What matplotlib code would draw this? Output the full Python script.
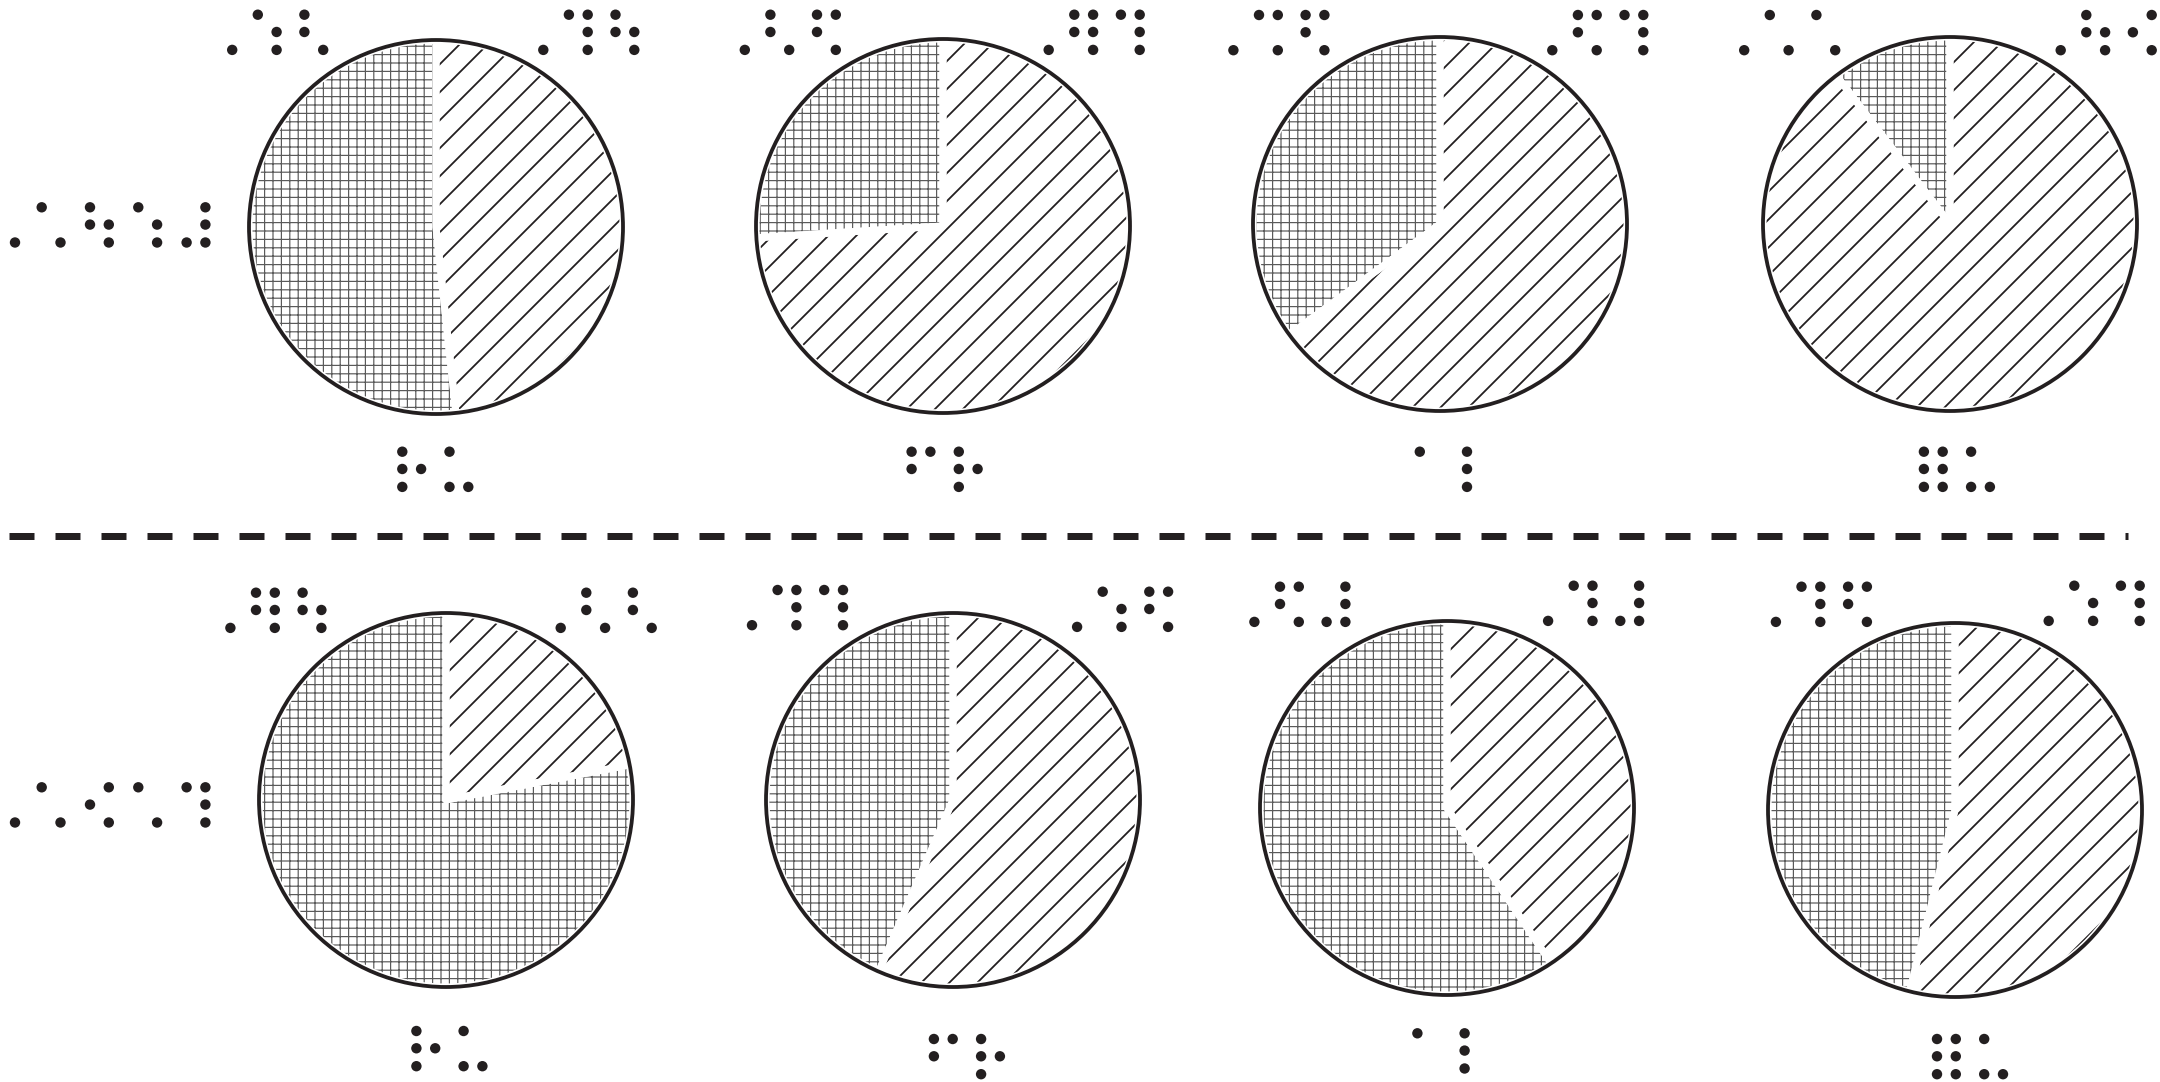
import numpy as np
import matplotlib
matplotlib.use("Agg")
import matplotlib.pyplot as plt
from matplotlib.patches import Circle
from matplotlib.path import Path
from matplotlib.transforms import Affine2D
from matplotlib.textpath import TextPath
from matplotlib.font_manager import FontProperties
from matplotlib import patheffects

# tamanho final em pixels
W, H, DPI = 2160, 1082, 504

def pt(px):
    # pixels -> pontos
    return px * 72 / DPI

# --- dados (braille) ---
row_labels = ["⠠⠡⠳⠱⠼", "⠠⠡⠪⠡⠹"]
left_labels = [["⠠⠱⠣", "⠠⠣⠫", "⠠⠩⠫", "⠠⠡⠡"],
               ["⠠⠻⠳", "⠠⠹⠹", "⠠⠫⠼", "⠠⠹⠫"]]
right_labels = [["⠠⠹⠳", "⠠⠻⠹", "⠠⠫⠹", "⠠⠳⠪"],
                ["⠠⠣⠣", "⠠⠱⠫", "⠠⠹⠼", "⠠⠱⠹"]]
bottom_labels = [["⠗⠥", "⠋⠗", "⠁⠇", "⠿⠥"],
                 ["⠗⠥", "⠋⠗", "⠁⠇", "⠿⠥"]]

# parcela quadriculada (%) e parcela listrada (%)
cross_share = [[51.7, 26.0, 35.1, 10.4],
               [78.0, 43.5, 59.4, 46.1]]
diag_share = [[100 - v for v in row] for row in cross_share]

# --- layout (pixels a partir do topo) ---
centers = [[(436, 227), (943, 226), (1440, 224), (1950, 224)],
           [(446, 800), (953, 800), (1447, 808), (1955, 810)]]
R = 187

row_label_pos = [(41.7, 207.3), (41.7, 787.3)]
left_pos = [[(257.8, 14.7), (770.4, 14.7), (1259, 15), (1769.8, 15)],
            [(256, 592.7), (777.6, 590), (1280, 586.7), (1801.5, 586.7)]]
right_pos = [[(568.9, 14.7), (1074.3, 14.7), (1577.9, 15), (2086.3, 15)],
             [(586.3, 592.7), (1102.7, 591.7), (1573.7, 585.7), (2074.3, 585.7)]]
bottom_pos = [[(402.3, 451.7), (911.6, 451.7), (1419.8, 451.7), (1923.9, 451.7)],
              [(416.4, 1031), (933.9, 1039), (1417.4, 1033.3), (1937, 1039)]]

INK = "#231f20"
CROSS_INK = "#5a5a5a"
ROW_SP = 17.6      # distancia entre linhas de pontos
DOT_R = 5.2        # raio do ponto

plt.rcParams["hatch.linewidth"] = pt(1.7)
plt.rcParams["lines.scale_dashes"] = False
plt.rcParams["text.hinting"] = "no_hinting"

# geometria dos pontos na fonte
fp = FontProperties(family="DejaVu Sans")
tp = TextPath((0, 0), "⠿", size=72, prop=fp)
polys = tp.to_polygons()
boxes = np.array([[p[:, 0].min(), p[:, 0].max(), p[:, 1].min(), p[:, 1].max()] for p in polys])
cx_ = (boxes[:, 0] + boxes[:, 1]) / 2
cy_ = (boxes[:, 2] + boxes[:, 3]) / 2
g_left, g_right = cx_.min(), cx_.max()
g_top, g_bot = cy_.max(), cy_.min()

# px = unidade * (fs/72) * (DPI/72)
unit_px = ROW_SP / ((g_top - g_bot) / 2)
FS = unit_px * 72 * 72 / DPI
col_px = (g_right - g_left) * unit_px


class RoundDots(patheffects.AbstractPathEffect):
    # desenha cada ponto do glifo braille como um circulo
    def __init__(self, radius):
        super().__init__()
        self.radius = radius

    def draw_path(self, renderer, gc, tpath, affine, rgbFace=None):
        path = affine.transform_path(tpath)
        circles = []
        for p in path.to_polygons():
            if len(p) < 3:
                continue
            c = ((p[:, 0].min() + p[:, 0].max()) / 2, (p[:, 1].min() + p[:, 1].max()) / 2)
            circles.append(Path.circle(c, self.radius))
        if circles:
            renderer.draw_path(gc, Path.make_compound_path(*circles), Affine2D(), rgbFace)


effects = [RoundDots(DOT_R)]

fig = plt.figure(figsize=(W / DPI, H / DPI), dpi=DPI)
ax = fig.add_axes([0, 0, 1, 1])


def braille(s, x0, ytop, pitch, cap_gap):
    # cada cela em separado, alinhada pela coluna esquerda
    xs = []
    k = 0
    for ch in s:
        if ch == "⠠" and not xs:
            xs.append((ch, x0 - cap_gap - col_px))
        else:
            xs.append((ch, x0 + k * pitch))
            k += 1
    for ch, xl in xs:
        ax.text(xl - g_left * unit_px, (H - ytop) - g_top * unit_px, ch,
                fontproperties=fp, fontsize=FS, color=INK,
                ha="left", va="baseline", path_effects=effects)


for r in range(2):
    for c in range(4):
        cx, cy = centers[r][c]
        vals = [cross_share[r][c], diag_share[r][c]]
        wedges, _ = ax.pie(vals, startangle=90, counterclock=True, radius=R,
                           center=(cx, H - cy), colors=["white", "white"],
                           hatch=["++++++++++", "//////"],
                           wedgeprops=dict(linewidth=0))
        wedges[0].set_edgecolor(CROSS_INK)
        wedges[1].set_edgecolor(INK)
        wedges[0].set_linewidth(0)
        wedges[1].set_linewidth(0)
        if hasattr(wedges[0], "set_hatch_linewidth"):
            wedges[0].set_hatch_linewidth(pt(1.2))
            wedges[1].set_hatch_linewidth(pt(1.8))
        # separacao branca entre fatias
        ax.pie(vals, startangle=90, counterclock=True, radius=R,
               center=(cx, H - cy),
               wedgeprops=dict(fill=False, edgecolor="white", linewidth=pt(7),
                               joinstyle="round"))
        ax.add_patch(Circle((cx, H - cy), R, fill=False, edgecolor=INK,
                            linewidth=pt(3.8), zorder=3))

        braille(left_labels[r][c], *left_pos[r][c], 46.6, 25.6)
        braille(right_labels[r][c], *right_pos[r][c], 46.6, 25.6)
        braille(bottom_labels[r][c], *bottom_pos[r][c], 47.2, 0)

for r in range(2):
    braille(row_labels[r], *row_label_pos[r], 48.3, 26.7)

# linha tracejada separando as duas linhas de graficos
ax.plot([9, 2128], [H - 536, H - 536], color=INK, lw=pt(7),
        dashes=(pt(25), pt(21)), dash_capstyle="butt")

ax.set_xlim(0, W)
ax.set_ylim(0, H)
ax.set_aspect("auto")
ax.axis("off")

fig.savefig("out.png", dpi=DPI, facecolor="white")
